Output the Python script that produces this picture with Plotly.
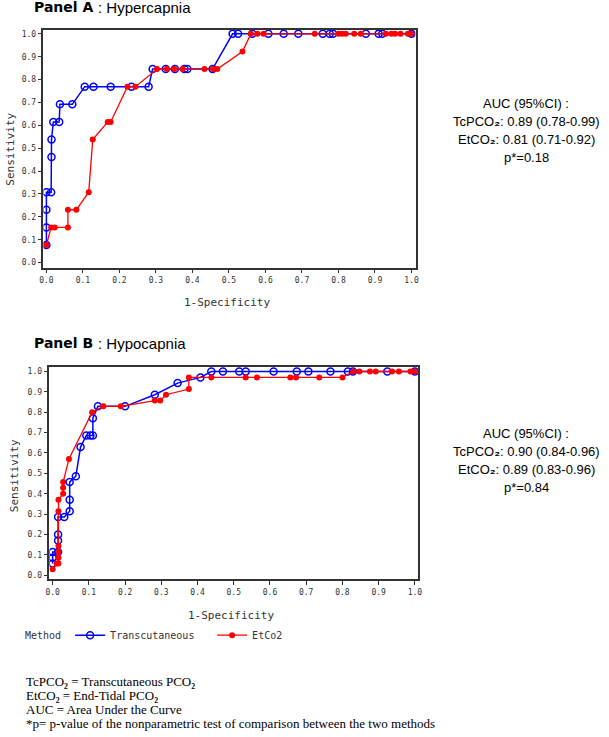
import plotly.graph_objects as go

W, H = 609, 737

# ---------------- data ----------------
# Panel A : Hypercapnia
a_tc_fpr = [0.000, 0.000, 0.000, 0.000, 0.013, 0.014, 0.014, 0.019, 0.035, 0.037, 0.071,
            0.105, 0.129, 0.176, 0.233, 0.280, 0.291, 0.327, 0.352, 0.378, 0.386, 0.455,
            0.510, 0.525, 0.564, 0.608, 0.650, 0.690, 0.757, 0.776, 0.785, 0.875, 0.910, 0.920, 1.000]
a_tc_sens = [0.077, 0.154, 0.231, 0.308, 0.308, 0.462, 0.538, 0.615, 0.615, 0.692, 0.692,
             0.769, 0.769, 0.769, 0.769, 0.769, 0.846, 0.846, 0.846, 0.846, 0.846, 0.846,
             1.0, 1.0, 1.0, 1.0, 1.0, 1.0, 1.0, 1.0, 1.0, 1.0, 1.0, 1.0, 1.0]
a_et_fpr = [0.000, 0.013, 0.023, 0.059, 0.059, 0.082, 0.116, 0.127, 0.168, 0.176, 0.222, 0.244,
            0.303, 0.330, 0.350, 0.373, 0.433, 0.456, 0.468, 0.537,
            0.560, 0.578, 0.595, 0.735, 0.800, 0.810, 0.820, 0.843, 0.861, 0.930, 0.945, 0.955,
            0.970, 0.990, 1.000]
a_et_sens = [0.077, 0.154, 0.154, 0.154, 0.231, 0.231, 0.308, 0.538, 0.615, 0.615, 0.769, 0.769,
             0.846, 0.846, 0.846, 0.846, 0.846, 0.846, 0.846, 0.923,
             1.0, 1.0, 1.0, 1.0, 1.0, 1.0, 1.0, 1.0, 1.0, 1.0, 1.0, 1.0, 1.0, 1.0, 1.0]

# Panel B : Hypocapnia
b_tc_fpr = [0.000, 0.000, 0.000, 0.015, 0.015, 0.015, 0.015, 0.032, 0.047, 0.047, 0.047, 0.064,
            0.077, 0.093, 0.104, 0.111, 0.111, 0.125, 0.200, 0.282, 0.345, 0.408,
            0.438, 0.470, 0.515, 0.533, 0.610, 0.674, 0.706, 0.767, 0.815, 0.829, 0.924, 1.000]
b_tc_sens = [0.057, 0.086, 0.114, 0.114, 0.171, 0.200, 0.286, 0.286, 0.314, 0.371, 0.457, 0.486,
             0.629, 0.686, 0.686, 0.686, 0.771, 0.829, 0.829, 0.886, 0.943, 0.971,
             1.0, 1.0, 1.0, 1.0, 1.0, 1.0, 1.0, 1.0, 1.0, 1.0, 1.0, 1.0]
b_et_fpr = [0.000, 0.011, 0.016, 0.016, 0.016, 0.016, 0.016, 0.016, 0.029, 0.029, 0.029, 0.045,
            0.109, 0.140, 0.188, 0.282, 0.297, 0.313, 0.376, 0.376,
            0.438, 0.533, 0.564, 0.656, 0.672, 0.736, 0.800,
            0.830, 0.847, 0.876, 0.892, 0.937, 0.956, 0.988, 1.000]
b_et_sens = [0.029, 0.057, 0.057, 0.086, 0.114, 0.143, 0.314, 0.371, 0.400, 0.429, 0.457, 0.571,
             0.800, 0.829, 0.829, 0.857, 0.857, 0.886, 0.914, 0.971,
             0.971, 0.971, 0.971, 0.971, 0.971, 0.971, 0.971,
             1.0, 1.0, 1.0, 1.0, 1.0, 1.0, 1.0, 1.0]

tick_vals = [0.0, 0.1, 0.2, 0.3, 0.4, 0.5, 0.6, 0.7, 0.8, 0.9, 1.0]
tick_text = ["0.0", "0.1", "0.2", "0.3", "0.4", "0.5", "0.6", "0.7", "0.8", "0.9", "1.0"]

series_names = ["Transcutaneous", "EtCo2"]

auc_a = ["AUC (95%CI) :", "TcPCO<b>₂</b>: 0.89 (0.78-0.99)",
         "EtCO<b>₂</b>: 0.81 (0.71-0.92)", "p*=0.18"]
auc_b = ["AUC (95%CI) :", "TcPCO<b>₂</b>: 0.90 (0.84-0.96)",
         "EtCO<b>₂</b>: 0.89 (0.83-0.96)", "p*=0.84"]
footnotes = ["TcPCO<b>₂</b> = Transcutaneous PCO<b>₂</b>",
             "EtCO<b>₂</b> = End-Tidal PCO<b>₂</b>",
             "AUC = Area Under the Curve",
             "*p= p-value of the nonparametric test of comparison between the two methods"]

# ---------------- figure ----------------
BLUE = "#0000FF"
RED = "#FF0000"
MONO = "DejaVu Sans Mono"


def px(x):
    return x / W


def py(y):
    return 1 - y / H


fig = go.Figure()

def add_pair(tc_x, tc_y, et_x, et_y, xa, ya, show):
    fig.add_trace(go.Scatter(x=tc_x, y=tc_y, mode="lines+markers", name=series_names[0],
                             xaxis=xa, yaxis=ya, showlegend=show, legendrank=1,
                             line=dict(color=BLUE, width=1.5),
                             marker=dict(symbol="circle-open", size=7, color=BLUE,
                                         line=dict(width=1.5, color=BLUE))))
    fig.add_trace(go.Scatter(x=et_x, y=et_y, mode="lines+markers", name=series_names[1],
                             xaxis=xa, yaxis=ya, showlegend=show, legendrank=2,
                             line=dict(color=RED, width=1.3),
                             marker=dict(symbol="circle", size=6, color=RED)))

add_pair(a_tc_fpr, a_tc_sens, a_et_fpr, a_et_sens, "x", "y", False)
add_pair(b_tc_fpr, b_tc_sens, b_et_fpr, b_et_sens, "x2", "y2", True)

ax_common = dict(showline=True, linecolor="#333333", linewidth=1.5, mirror=True,
                 ticks="outside", ticklen=4, tickwidth=1, tickcolor="#333333",
                 showgrid=False, zeroline=False, tickvals=tick_vals, ticktext=tick_text,
                 tickfont=dict(family=MONO, size=8, color="#333333"))

fig.update_layout(
    width=W, height=H,
    margin=dict(l=0, r=0, t=0, b=0),
    paper_bgcolor="white", plot_bgcolor="white",
    xaxis=dict(domain=[px(40), px(417)], range=[-0.008, 1.011], anchor="y", **ax_common),
    yaxis=dict(domain=[py(268), py(30)], range=[-0.022, 1.017], anchor="x", **ax_common),
    xaxis2=dict(domain=[px(46), px(420)], range=[-0.009, 1.010], anchor="y2", **ax_common),
    yaxis2=dict(domain=[py(580), py(367)], range=[-0.0196, 1.0245], anchor="x2", **ax_common),
    legend=dict(orientation="h", x=px(67), y=py(636), xanchor="left", yanchor="middle",
                font=dict(family=MONO, size=10, color="#333333"),
                bgcolor="rgba(0,0,0,0)", itemwidth=30, tracegroupgap=0, entrywidth=97),
)

ann = []
# Legend label
ann.append(dict(x=px(19), y=py(636), xref="paper", yref="paper", xanchor="left",
                yanchor="middle", showarrow=False, text="Method",
                font=dict(family=MONO, size=10, color="#333333")))
# Panel titles
for label, rest, yc in [("Panel A", ": Hypercapnia", 7), ("Panel B", ": Hypocapnia", 343)]:
    ann.append(dict(x=px(28), y=py(yc), xref="paper", yref="paper", xanchor="left",
                    yanchor="middle", showarrow=False, text="<b>" + label + "</b>",
                    font=dict(family="DejaVu Sans", size=14, color="black")))
    ann.append(dict(x=px(93), y=py(yc + 1), xref="paper", yref="paper", xanchor="left",
                    yanchor="middle", showarrow=False, text=rest,
                    font=dict(family="Liberation Sans", size=15, color="black")))

# Axis titles
for xc, yc in [(226, 303), (230, 616)]:
    ann.append(dict(x=px(xc), y=py(yc), xref="paper", yref="paper", showarrow=False,
                    xanchor="center", yanchor="middle",
                    text="1-Specificity", font=dict(family=MONO, size=11, color="#333333")))
for xc, yc in [(7, 149), (10, 476)]:
    ann.append(dict(x=px(xc), y=py(yc), xref="paper", yref="paper", showarrow=False,
                    xanchor="center", yanchor="middle",
                    text="Sensitivity", textangle=-90,
                    font=dict(family=MONO, size=11, color="#333333")))

# AUC texts
for lines, ys in [(auc_a, [104, 122, 140, 158]), (auc_b, [434, 452, 470, 488])]:
    for t, yc in zip(lines, ys):
        ann.append(dict(x=px(529), y=py(yc), xref="paper", yref="paper", showarrow=False,
                        xanchor="center", yanchor="middle", text=t,
                        font=dict(family="Liberation Sans", size=13, color="black")))

# Footnotes
for t, yc in zip(footnotes, [682, 696, 710, 724]):
    ann.append(dict(x=px(20), y=py(yc), xref="paper", yref="paper", showarrow=False,
                    xanchor="left", yanchor="middle", text=t,
                    font=dict(family="Liberation Serif", size=13, color="black")))

fig.update_layout(annotations=ann)

fig.write_html("out.html", config={"displayModeBar": False},
               post_script="document.body.style.margin='0';")
